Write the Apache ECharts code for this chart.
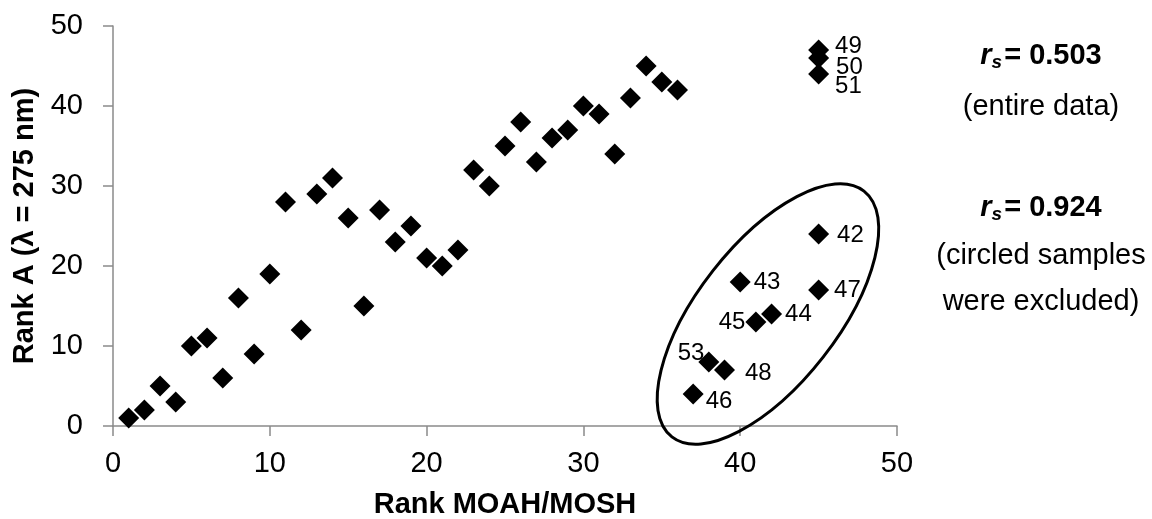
<!DOCTYPE html>
<html>
<head>
<meta charset="utf-8">
<script src="https://cdn.jsdelivr.net/npm/echarts@6/dist/echarts.min.js"></script>
<style>
  html, body { margin: 0; padding: 0; background: #fff; }
  #chart { width: 1152px; height: 519px; }
</style>
</head>
<body>
<div id="chart"></div>
<script>
// ---- Data ----
const mainRankMoah = [1, 2, 3, 4, 5, 6, 7, 8, 9, 10, 11, 12, 13, 14, 15, 16, 17, 18, 19, 20, 21, 22, 23, 24, 25, 26, 27, 28, 29, 30, 31, 32, 33, 34, 35, 36];
const mainRankA    = [1, 2, 5, 3, 10, 11, 6, 16, 9, 19, 28, 12, 29, 31, 26, 15, 27, 23, 25, 21, 20, 22, 32, 30, 35, 38, 33, 36, 37, 40, 39, 34, 41, 45, 43, 42];

const circledIds      = ['42', '43', '44', '45', '46', '47', '48', '53'];
const circledRankMoah = [45, 40, 42, 41, 37, 45, 39, 38];
const circledRankA    = [24, 18, 14, 13, 4, 17, 7, 8];

const topIds      = ['49', '50', '51'];
const topRankMoah = [45, 45, 45];
const topRankA    = [47, 46, 44];

const xTickValues = [0, 10, 20, 30, 40, 50];
const yTickValues = [0, 10, 20, 30, 40, 50];

const xTitle = 'Rank MOAH/MOSH';
const yTitle = 'Rank A (λ = 275 nm)';
const stat1 = '0.503';
const stat2 = '0.924';

// Ellipse drawn around the excluded samples (centre in data units)
const ellipseCenter = [41.77, 14.0];

// ---- Label placement (style only) ----
const labelStyle = {
  '42': { position: 'right', distance: 8, offset: [0, 1] },
  '43': { position: 'right', distance: 3, offset: [0, 0] },
  '44': { position: 'right', distance: 3, offset: [0, 0] },
  '45': { position: 'left',  distance: 0, offset: [0, 0] },
  '46': { position: 'right', distance: 2, offset: [0, 7] },
  '47': { position: 'right', distance: 5, offset: [0, 0] },
  '48': { position: 'right', distance: 10, offset: [0, 3] },
  '53': { position: 'left',  distance: 0, offset: [6, -9] },
  '49': { position: 'right', distance: 6, offset: [0, -4] },
  '50': { position: 'right', distance: 7, offset: [0, 9] },
  '51': { position: 'right', distance: 6, offset: [0, 12] }
};

const FONT = '"Liberation Sans", Arial, sans-serif';
const FS = 29;

function labeled(ids, xs, ys) {
  return ids.map((id, i) => {
    const s = labelStyle[id];
    return {
      value: [xs[i], ys[i]],
      name: id,
      label: {
        show: true,
        formatter: id,
        position: s.position,
        distance: s.distance,
        offset: s.offset,
        color: '#000',
        fontSize: 24,
        fontFamily: FONT
      }
    };
  });
}

const chart = echarts.init(document.getElementById('chart'), null, { renderer: 'canvas' });

const markerStyle = {
  type: 'scatter',
  symbol: 'diamond',
  symbolSize: 21,
  itemStyle: { color: '#000', opacity: 1 },
  emphasis: { disabled: true },
  animation: false
};

const option = {
  animation: false,
  backgroundColor: '#fff',
  grid: { left: 113, top: 26, right: 255, bottom: 93, containLabel: false, outerBoundsMode: 'none' },
  xAxis: {
    type: 'value',
    min: xTickValues[0],
    max: xTickValues[xTickValues.length - 1],
    interval: xTickValues[1] - xTickValues[0],
    name: xTitle,
    nameLocation: 'middle',
    nameGap: 64,
    nameTextStyle: { fontFamily: FONT, fontSize: FS, fontWeight: 'bold', color: '#000' },
    axisLine: { show: true, onZero: false, lineStyle: { color: '#8a8a8a', width: 1.5 } },
    axisTick: { show: true, inside: false, length: 10, lineStyle: { color: '#8a8a8a', width: 1.5 } },
    axisLabel: { fontFamily: FONT, fontSize: FS, color: '#000', margin: 23 },
    splitLine: { show: false }
  },
  yAxis: {
    type: 'value',
    min: yTickValues[0],
    max: yTickValues[yTickValues.length - 1],
    interval: yTickValues[1] - yTickValues[0],
    name: yTitle,
    nameLocation: 'middle',
    nameGap: 74,
    nameTextStyle: { fontFamily: FONT, fontSize: FS, fontWeight: 'bold', color: '#000' },
    axisLine: { show: true, onZero: false, lineStyle: { color: '#8a8a8a', width: 1.5 } },
    axisTick: { show: true, inside: false, length: 10, lineStyle: { color: '#8a8a8a', width: 1.5 } },
    axisLabel: { fontFamily: FONT, fontSize: FS, color: '#000', margin: 30 },
    splitLine: { show: false }
  },
  series: [
    Object.assign({}, markerStyle, {
      name: 'samples',
      data: mainRankMoah.map((x, i) => [x, mainRankA[i]])
    }),
    Object.assign({}, markerStyle, {
      name: 'circled',
      data: labeled(circledIds, circledRankMoah, circledRankA)
    }),
    Object.assign({}, markerStyle, {
      name: 'top',
      data: labeled(topIds, topRankMoah, topRankA)
    }),
    {
      type: 'custom',
      name: 'ellipse',
      silent: true,
      animation: false,
      z: 5,
      data: [ellipseCenter],
      renderItem: function (params, api) {
        const c = api.coord([api.value(0), api.value(1)]);
        return {
          type: 'ellipse',
          x: c[0],
          y: c[1],
          rotation: 52 * Math.PI / 180,
          shape: { cx: 0, cy: 0, rx: 156, ry: 70 },
          style: { fill: 'none', stroke: '#000', lineWidth: 3 }
        };
      }
    }
  ]
};

function statText(val, cy) {
  return {
    type: 'text',
    x: 1041,
    y: cy,
    style: {
      text: '{r|r}{s|s}{v|= ' + val + '}',
      align: 'center',
      verticalAlign: 'middle',
      rich: {
        r: { fontFamily: FONT, fontSize: FS, fontWeight: 'bold', fontStyle: 'italic', fill: '#000', color: '#000' },
        s: { fontFamily: FONT, fontSize: 19, fontWeight: 'bold', fontStyle: 'italic', fill: '#000', color: '#000', padding: [14, 2, 0, 0] },
        v: { fontFamily: FONT, fontSize: FS, fontWeight: 'bold', fill: '#000', color: '#000' }
      }
    }
  };
}
function plainText(t, cy) {
  return {
    type: 'text',
    x: 1041,
    y: cy,
    style: {
      text: t,
      align: 'center',
      verticalAlign: 'middle',
      fontFamily: FONT,
      fontSize: FS,
      fill: '#000'
    }
  };
}

option.graphic = [
  statText(stat1, 56),
  plainText('(entire data)', 107),
  statText(stat2, 208),
  plainText('(circled samples', 256),
  plainText('were excluded)', 302)
];

chart.setOption(option);
</script>
</body>
</html>
